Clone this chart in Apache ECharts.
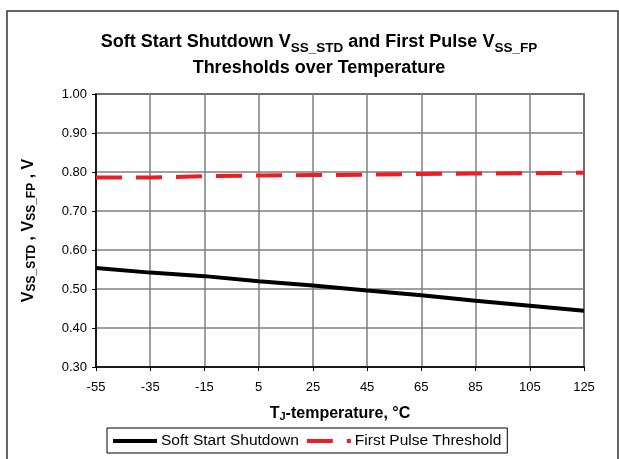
<!DOCTYPE html>
<html>
<head>
<meta charset="utf-8">
<script src="https://cdn.jsdelivr.net/npm/echarts@6/dist/echarts.min.js"></script>
<style>
  html, body { margin: 0; padding: 0; background: #fff; }
  #chart { width: 619px; height: 459px; }
</style>
</head>
<body>
<div id="chart"></div>
<script>
// temperatures (deg C) along the x axis
const temps = ['-55', '-35', '-15', '5', '25', '45', '65', '85', '105', '125'];
// soft start shutdown threshold, V
const shutdown = [0.554, 0.542, 0.533, 0.520, 0.509, 0.496, 0.484, 0.470, 0.457, 0.444];
// first pulse threshold, V
const firstPulse = [0.786, 0.786, 0.789, 0.791, 0.792, 0.793, 0.795, 0.796, 0.797, 0.798];

const seriesNames = ['Soft Start Shutdown', 'First Pulse Threshold'];

const font = 'Liberation Sans, Arial, sans-serif';
const chart = echarts.init(document.getElementById('chart'), null, { renderer: 'canvas' });

const option = {
  backgroundColor: '#ffffff',
  animation: false,
  textStyle: { fontFamily: font },
  title: {
    text: 'Soft Start Shutdown V{s|SS_STD} and First Pulse V{s|SS_FP}\nThresholds over Temperature',
    left: 314,
    textAlign: 'center',
    top: 24,
    textStyle: {
      fontFamily: font,
      fontSize: 18,
      fontWeight: 'bold',
      color: '#000',
      lineHeight: 26,
      rich: {
        s: { fontFamily: font, fontSize: 13.5, fontWeight: 'bold', color: '#000', verticalAlign: 'bottom', lineHeight: 26, padding: [6, 0, 0, 0] }
      }
    }
  },
  graphic: [{
    type: 'rect',
    shape: { x: 7, y: 11, width: 611, height: 470 },
    style: { fill: 'none', stroke: '#333', lineWidth: 1.5 },
    silent: true
  }],
  legend: {
    data: [
      { name: seriesNames[0], icon: 'rect' },
      { name: seriesNames[1], icon: 'path://M0,0H26V4H0ZM40,0H44V4H40Z' }
    ],
    left: 107,
    top: 428,
    orient: 'horizontal',
    itemWidth: 44,
    itemHeight: 4,
    itemGap: 8,
    padding: [5, 6, 4, 6],
    borderColor: '#000',
    borderWidth: 1,
    textStyle: { fontFamily: font, fontSize: 15.5, color: '#000', padding: [0, 0, 0, -1] }
  },
  grid: {
    left: 96,
    right: 35,
    top: 94,
    bottom: 92,
    show: true,
    borderColor: '#000',
    borderWidth: 1.5
  },
  xAxis: {
    type: 'category',
    data: temps,
    boundaryGap: false,
    name: 'T{s|J}-temperature, °C',
    nameLocation: 'middle',
    nameGap: 38,
    nameTextStyle: {
      fontFamily: font, fontSize: 16, fontWeight: 'bold', color: '#000',
      rich: { s: { fontFamily: font, fontSize: 11, fontWeight: 'bold', color: '#000', padding: [6, 0, 0, 0] } }
    },
    axisLine: { lineStyle: { color: '#000', width: 1.5 } },
    axisTick: { show: true, length: 4, alignWithLabel: true, lineStyle: { color: '#000' } },
    axisLabel: { fontFamily: font, fontSize: 13, color: '#000', margin: 14 },
    splitLine: { show: true, lineStyle: { color: '#7f7f7f', width: 1.5 } }
  },
  yAxis: {
    type: 'value',
    min: 0.3,
    max: 1.0,
    interval: 0.1,
    name: 'V{s|SS_STD} , V{s|SS_FP} , V',
    nameLocation: 'middle',
    nameRotate: 90,
    nameGap: 58,
    nameTextStyle: {
      fontFamily: font, fontSize: 16, fontWeight: 'bold', color: '#000',
      rich: { s: { fontFamily: font, fontSize: 12, fontWeight: 'bold', color: '#000', padding: [7, 0, 0, 0] } }
    },
    axisLine: { show: true, lineStyle: { color: '#000', width: 1.5 } },
    axisTick: { show: true, length: 4, lineStyle: { color: '#000' } },
    axisLabel: {
      fontFamily: font, fontSize: 13, color: '#000', margin: 9,
      formatter: v => v.toFixed(2)
    },
    splitLine: { show: true, lineStyle: { color: '#7f7f7f', width: 1.5 } }
  },
  series: [
    {
      name: seriesNames[0],
      type: 'line',
      data: shutdown,
      symbol: 'none',
      color: '#000',
      lineStyle: { color: '#000', width: 4 }
    },
    {
      name: seriesNames[1],
      type: 'line',
      data: firstPulse,
      symbol: 'none',
      color: '#ee1c25',
      lineStyle: { color: '#ee1c25', width: 4, type: [26, 14] }
    }
  ]
};

chart.setOption(option);
</script>
</body>
</html>
